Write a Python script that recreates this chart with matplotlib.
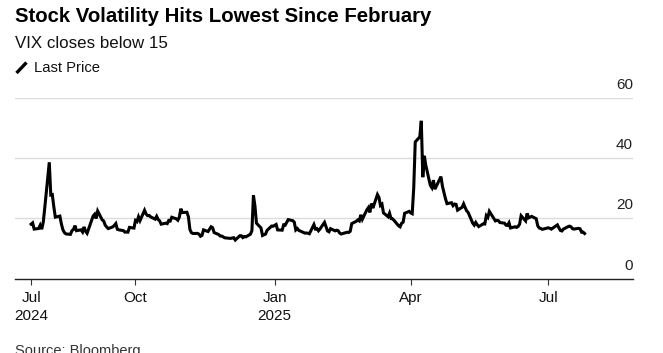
import matplotlib
matplotlib.use("Agg")
import matplotlib.pyplot as plt
from matplotlib.lines import Line2D
import pandas as pd

plt.rcParams['font.family'] = ['Liberation Sans', 'DejaVu Sans']

# ---- data (VIX daily close) ----
months = {
    "2024-07": [24, 25, 26, 29, 30, 31],
    "2024-08": [1, 2, 5, 6, 7, 8, 9, 12, 13, 14, 15, 16, 19, 20, 21, 22, 23, 26, 27, 28, 29, 30],
    "2024-09": [3, 4, 5, 6, 9, 10, 11, 12, 13, 16, 17, 18, 19, 20, 23, 24, 25, 26, 27, 30],
    "2024-10": [1, 2, 3, 4, 7, 8, 9, 10, 11, 14, 15, 16, 17, 18, 21, 22, 23, 24, 25, 28, 29, 30, 31],
    "2024-11": [1, 4, 5, 6, 7, 8, 11, 12, 13, 14, 15, 18, 19, 20, 21, 22, 25, 26, 27, 29],
    "2024-12": [2, 3, 4, 5, 6, 9, 10, 11, 12, 13, 16, 17, 18, 19, 20, 23, 24, 26, 27, 30, 31],
    "2025-01": [2, 3, 6, 7, 8, 10, 13, 14, 15, 16, 17, 21, 22, 23, 24, 27, 28, 29, 30, 31],
    "2025-02": [3, 4, 5, 6, 7, 10, 11, 12, 13, 14, 18, 19, 20, 21, 24, 25, 26, 27, 28],
    "2025-03": [3, 4, 5, 6, 7, 10, 11, 12, 13, 14, 17, 18, 19, 20, 21, 24, 25, 26, 27, 28, 31],
    "2025-04": [1, 2, 3, 4, 7, 8, 9, 10, 11, 14, 15, 16, 17, 21, 22, 23, 24, 25, 28, 29, 30],
    "2025-05": [1, 2, 5, 6, 7, 8, 9, 12, 13, 14, 15, 16, 19, 20, 21, 22, 23, 27, 28, 29, 30],
    "2025-06": [2, 3, 4, 5, 6, 9, 10, 11, 12, 13, 16, 17, 18, 20, 23, 24, 25, 26, 27, 30],
    "2025-07": [1, 2, 3, 7, 8, 9, 10, 11, 14, 15, 16, 17, 18, 21, 22, 23, 24, 25],
}
vix = [
    18.04, 18.46, 16.39, 16.60, 17.69, 16.36,
    18.59, 23.39, 38.57, 27.71, 27.85, 23.79, 20.37, 20.71, 18.12, 16.19, 15.23, 14.80, 14.65, 15.88, 16.27, 17.55, 15.86, 16.15, 15.43, 17.11, 15.65, 15.00,
    20.72, 21.32, 19.90, 22.38, 19.45, 19.08, 17.69, 17.07, 16.56, 17.14, 17.61, 18.23, 16.33, 16.15, 15.89, 15.39, 15.41, 15.37, 16.96, 16.73,
    19.26, 18.90, 20.49, 19.21, 22.64, 21.42, 20.86, 20.93, 20.46, 19.70, 20.64, 19.58, 19.11, 18.03, 18.37, 18.20, 19.24, 19.08, 20.33, 19.80, 19.34, 20.35, 23.16,
    21.88, 21.98, 20.49, 16.27, 15.20, 14.94, 14.97, 14.71, 14.02, 14.31, 16.14, 15.58, 16.35, 17.16, 16.87, 15.24, 14.60, 14.10, 14.10, 13.51,
    13.34, 13.30, 13.45, 13.54, 12.77, 14.19, 14.18, 13.58, 13.92, 13.81, 14.69, 15.87, 27.62, 24.09, 18.36, 16.78, 14.27, 14.73, 15.95, 17.40, 17.35,
    17.93, 16.13, 16.04, 17.82, 17.70, 19.54, 19.19, 18.71, 16.12, 16.60, 15.97, 15.06, 15.10, 15.02, 14.85, 17.90, 16.41, 16.56, 15.84, 16.43,
    18.62, 17.21, 15.77, 15.50, 16.54, 15.81, 16.02, 15.89, 15.10, 14.77, 15.35, 15.27, 15.66, 18.21, 18.98, 19.43, 19.10, 21.13, 19.63,
    22.78, 23.51, 21.93, 24.87, 23.37, 27.86, 26.92, 24.23, 24.66, 21.77, 20.51, 21.70, 19.90, 19.80, 19.28, 17.48, 17.15, 18.33, 18.69, 21.65, 22.28,
    21.77, 21.51, 30.02, 45.31, 46.98, 52.33, 33.62, 40.72, 37.56, 30.89, 30.12, 32.64, 29.65, 33.82, 30.57, 28.45, 26.47, 24.84, 25.15, 24.17, 24.70,
    24.60, 22.68, 23.64, 24.76, 23.55, 22.48, 21.90, 18.39, 17.72, 18.62, 17.83, 17.24, 18.14, 18.09, 20.87, 20.28, 22.29, 19.11, 19.31, 19.18, 18.57,
    18.36, 17.69, 17.61, 18.48, 16.77, 17.16, 16.95, 17.26, 18.02, 20.82, 19.11, 21.60, 20.14, 20.62, 19.83, 17.48, 16.76, 16.59, 16.32, 16.73,
    16.83, 16.64, 16.38, 17.79, 16.81, 15.94, 15.78, 16.40, 17.20, 17.38, 17.16, 16.52, 16.41, 16.65, 16.50, 15.37, 15.39, 14.93,
]
dates = pd.to_datetime([f"{m}-{d:02d}" for m, days in months.items() for d in days])
assert len(dates) == len(vix)

xtick_dates = pd.to_datetime(["2024-07-24", "2024-10-01", "2025-01-01", "2025-04-01", "2025-07-01"])
xtick_labels = ["Jul\n2024", "Oct", "Jan\n2025", "Apr", "Jul"]
yticks = [0, 20, 40, 60]

title = "Stock Volatility Hits Lowest Since February"
subtitle = "VIX closes below 15"
legend_label = "Last Price"
source = "Source: Bloomberg"

# ---- figure ----
W, H = 663, 353
fig = plt.figure(figsize=(W / 100, H / 100), dpi=100)
ax = fig.add_axes([15 / W, (H - 278.5) / H, (633 - 15) / W, (278.5 - 97.7) / H])

ax.plot(dates, vix, color="black", lw=2.2, solid_joinstyle="miter", zorder=3)

ax.set_ylim(0, 60)
ax.set_xlim(pd.Timestamp("2024-07-13 08:00"), pd.Timestamp("2025-08-26"))

for v in yticks:
    if v == 0:
        continue
    ax.axhline(v, color="#dcdcdc", lw=1.0, zorder=1)
ax.set_yticks([])
for v in yticks:
    ax.annotate(str(v), xy=(1.0, v), xycoords=ax.get_yaxis_transform(),
                xytext=(0, 4.2), textcoords="offset points",
                ha="right", va="bottom", fontsize=11, color="#222222")

for s in ["top", "right", "left"]:
    ax.spines[s].set_visible(False)
ax.spines["bottom"].set_color("#222222")
ax.spines["bottom"].set_linewidth(1.0)

ax.set_xticks(xtick_dates)
ax.set_xticklabels(xtick_labels, fontsize=11, color="#111111", linespacing=1.35,
                   ha="center", multialignment="center")
ax.tick_params(axis="x", direction="out", length=4, width=0.8, color="#333333", pad=5)

fig.text(15 / W, 1 - 17 / H, title, fontsize=14.7, fontweight="bold", va="center", ha="left", color="black")
fig.text(15 / W, 1 - 44 / H, subtitle, fontsize=12.2, va="center", ha="left", color="#111111")
fig.add_artist(Line2D([16.5 / W, 26.5 / W], [1 - 73 / H, 1 - 62.5 / H], color="black", lw=2.4,
                      solid_capstyle="butt"))
fig.text(34 / W, 1 - 67.5 / H, legend_label, fontsize=10.6, va="center", ha="left", color="#111111")
fig.text(15 / W, 1 - 344 / H, source, fontsize=10.5, va="top", ha="left", color="#333333")

fig.savefig("out.png", dpi=100)
